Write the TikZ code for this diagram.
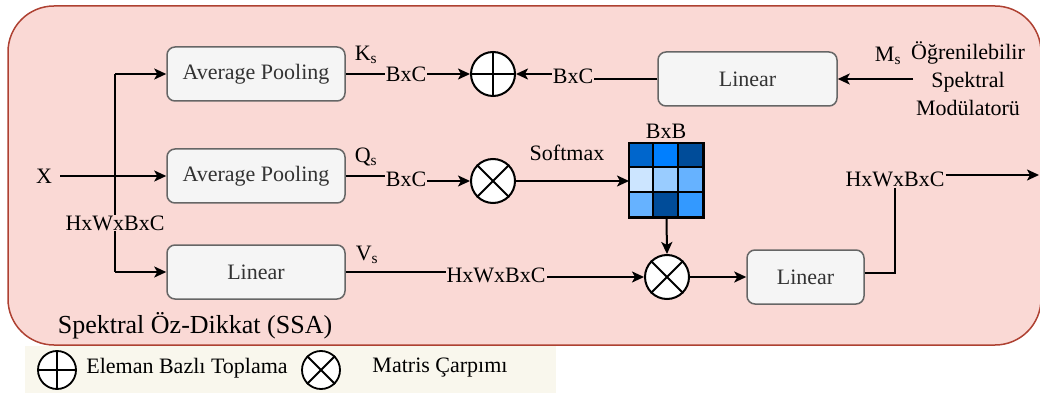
\documentclass[tikz,border=0pt]{standalone}
\usepackage{fontspec}
\IfFontExistsTF{LiberationSerif-Regular.ttf}{%
  \newfontfamily\tmsfont{LiberationSerif-Regular.ttf}}{%
  \IfFontExistsTF{TeX Gyre Termes}{\newfontfamily\tmsfont{TeX Gyre Termes}}{%
  \newfontfamily\tmsfont{Latin Modern Roman}}}
\usetikzlibrary{arrows.meta,calc}
\definecolor{pinkbg}{HTML}{FAD9D5}
\definecolor{pinkline}{HTML}{AE4132}
\definecolor{boxfill}{HTML}{F5F5F5}
\definecolor{boxline}{HTML}{666666}
\definecolor{boxtext}{HTML}{333333}
\definecolor{legbg}{HTML}{F9F7ED}
\definecolor{mA}{HTML}{0066CC}
\definecolor{mB}{HTML}{007FFF}
\definecolor{mC}{HTML}{004C99}
\definecolor{mD}{HTML}{CCE5FF}
\definecolor{mE}{HTML}{99CCFF}
\definecolor{mF}{HTML}{66B2FF}
\definecolor{mG}{HTML}{3399FF}
\begin{document}
\begin{tikzpicture}[x=1pt,y=-1pt,
  every node/.style={font=\tmsfont\fontsize{22}{28}\selectfont},
  boxst/.style={draw=boxline,fill=boxfill,rounded corners=8pt,line width=1.5pt,
    text=boxtext,minimum height=54pt,inner sep=0pt},
  circ/.style={circle,draw=black,fill=white,line width=2pt,minimum size=44pt,inner sep=0pt},
  lcirc/.style={circle,draw=black,fill=white,line width=1.8pt,minimum size=38pt,inner sep=0pt},
  lbl/.style={fill=pinkbg,inner sep=1pt},
  txt/.style={inner sep=0pt},
  conn/.style={line width=2pt},
  arr/.style={line width=2pt,-{Stealth[length=12pt,width=11pt,inset=3pt]}}]
\useasboundingbox (0,0) rectangle (1040,395);
% legend background
\fill[legbg] (25,346) rectangle (556,393);
% main container
\draw[pinkline,fill=pinkbg,line width=1.5pt,rounded corners=46pt] (8,6) rectangle (1041,345);
% boxes
\node[boxst,minimum width=178pt] (ap1) at (256,74) {Average Pooling};
\node[boxst,minimum width=178pt] (ap2) at (256,176) {Average Pooling};
\node[boxst,minimum width=178pt] (lin1) at (256,272) {Linear};
\node[boxst,minimum width=179pt] (linT) at (747.5,79) {Linear};
\node[boxst,minimum width=117pt] (lin2) at (805.5,277) {Linear};
% operators
\node[circ] (pl) at (493,74) {};
\draw[line width=2pt] (pl.north) -- (pl.south) (pl.west) -- (pl.east);
\node[circ] (t1) at (493,181) {};
\draw[line width=2pt] (t1.north west) -- (t1.south east) (t1.north east) -- (t1.south west);
\node[circ] (t2) at (667,277) {};
\draw[line width=2pt] (t2.north west) -- (t2.south east) (t2.north east) -- (t2.south west);
% matrix
\node[draw=black,line width=2pt,minimum size=73pt,inner sep=0pt] (mat) at (666.5,180.5) {};
\foreach \r/\cA/\cB/\cC in {0/mA/mB/mC,1/mD/mE/mF,2/mF/mC/mG}{
  \fill[\cA] ($(mat.north west)+(0,\r*24.333)$) rectangle ++(24.333,24.333);
  \fill[\cB] ($(mat.north west)+(24.333,\r*24.333)$) rectangle ++(24.333,24.333);
  \fill[\cC] ($(mat.north west)+(48.667,\r*24.333)$) rectangle ++(24.333,24.333);
}
\draw[line width=2pt] (mat.north west) rectangle (mat.south east);
\foreach \k in {1,2}{
  \draw[line width=2pt] ($(mat.north west)+(\k*24.333,0)$) -- ++(0,73);
  \draw[line width=2pt] ($(mat.north west)+(0,\k*24.333)$) -- ++(73,0);
}
\node[txt] (bxb) at (666,131) {BxB};
% input
\node[txt] (X) at (44,176) {X};
\coordinate (br) at (115,176);
\draw[arr] ([xshift=8pt]X.east) -- (ap2.west);
\draw[conn] (br |- ap1.west) -- (br |- lin1.west);
\draw[arr] (br |- ap1.west) -- (ap1.west);
\draw[arr] (br |- lin1.west) -- (lin1.west);
\node[lbl] (hxl) at (115,223) {HxWxBxC};
% K branch
\node[txt] (ks) at (366,55) {K\textsubscript{s}};
\coordinate (b1) at (406,74);
\draw[arr] (ap1.east) -- (pl.west);
\node[lbl] (bxc1) at (b1) {BxC};
% Q branch
\node[txt] (qs) at (366,157) {Q\textsubscript{s}};
\coordinate (b2) at (406,179);
\draw[arr] (ap2.east) -- (ap2.east -| b2) -- (b2 |- t1.west) -- (t1.west);
\node[lbl] (bxc2) at (b2) {BxC};
% Linear top to plus
\coordinate (b3) at (573,76);
\draw[arr] (linT.west) -- (linT.west -| b3) -- (b3 |- pl.east) -- (pl.east);
\node[lbl] (bxc3) at (b3) {BxC};
% Ms
\node[txt] (ms) at (888,56) {M\textsubscript{s}};
\node[txt,align=center] (mod) at (968,79) {Öğrenilebilir\\Spektral\\Modülatorü};
\coordinate (msa) at (913,79);
\draw[arr] (msa) -- (linT.east);
% softmax
\draw[arr] (t1.east) -- (t1.east -| mat.west);
\node[txt] (sm) at (567,153) {Softmax};
\draw[arr] (mat.south) -- (t2.north);
% V branch
\node[txt] (vs) at (367,255) {V\textsubscript{s}};
\coordinate (b4) at (496,275);
\draw[arr] (lin1.east) -- (lin1.east -| b4) -- (b4 |- t2.west) -- (t2.west);
\node[lbl] (hxv) at (b4) {HxWxBxC};
\draw[arr] (t2.east) -- (lin2.west);
% output
\node[lbl] (hxo) at (895,179) {HxWxBxC};
\coordinate (out) at (1039,175);
\draw[conn] ([yshift=4pt]lin2.east) -| (hxo.south);
\draw[arr] (hxo.east |- out) -- (out);
% title
\node[txt,font=\tmsfont\fontsize{26}{30}\selectfont] (title) at (195,326) {Spektral Öz-Dikkat (SSA)};
% legend
\node[lcirc] (lp) at (57,370) {};
\draw[line width=1.8pt] (lp.north) -- (lp.south) (lp.west) -- (lp.east);
\node[txt] (lpt) at (187,368) {Eleman Bazlı Toplama};
\node[lcirc] (lt) at (321,370) {};
\draw[line width=1.8pt] (lt.north west) -- (lt.south east) (lt.north east) -- (lt.south west);
\node[txt] (ltt) at (440,368) {Matris Çarpımı};
\end{tikzpicture}
\end{document}
